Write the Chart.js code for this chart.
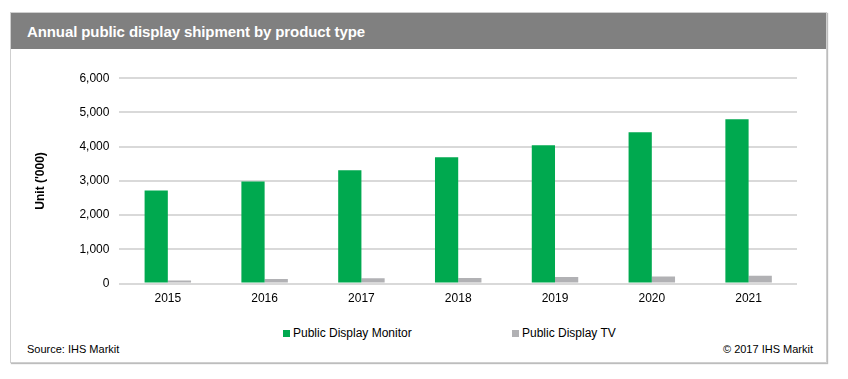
<!DOCTYPE html>
<html>
<head>
<meta charset="utf-8">
<script src="https://cdn.jsdelivr.net/npm/chart.js@4.4.0/dist/chart.umd.min.js"></script>
<style>
  body { margin: 0; background: #fff; font-family: "Liberation Sans", Arial, sans-serif; }
  .frame {
    position: absolute; left: 10px; top: 12px; width: 815px; height: 349px;
    border: 1px solid #cfcfcf; box-shadow: 1px 1px 1px #bdbdbd; background: #fff;
  }
  .header {
    height: 36px; background: #808080; color: #fff; font-weight: bold;
    font-size: 15px; line-height: 37px; padding-left: 16px; letter-spacing: -0.1px;
  }
  .chart_box { position: absolute; left: 0; top: 48px; width: 815px; height: 245px; }
  .legend { position: absolute; top: 313px; left: 0; width: 815px; font-size: 12px; }
  .legend span { position: absolute; white-space: nowrap; }
  .legend i { display: inline-block; width: 7px; height: 7px; margin-right: 3px; vertical-align: 0px; }
  .source { position: absolute; left: 16px; top: 330px; font-size: 11px; }
  .copy { position: absolute; right: 13px; top: 330px; font-size: 11px; }
</style>
</head>
<body>
<div class="frame">
  <div class="header">Annual public display shipment by product type</div>
  <div class="chart_box"><canvas id="shipment-chart"></canvas></div>
  <div class="legend" id="legend"></div>
  <div class="source">Source: IHS Markit</div>
  <div class="copy">© 2017 IHS Markit</div>
</div>
<script>
// Данные графика
const years = ['2015', '2016', '2017', '2018', '2019', '2020', '2021'];
const monitorUnits = [2720, 2980, 3310, 3690, 4040, 4420, 4800];
const tvUnits = [90, 135, 155, 165, 195, 210, 230];
const yTicks = [0, 1000, 2000, 3000, 4000, 5000, 6000];

const ctx = document.getElementById('shipment-chart').getContext('2d');
let shipmentChart = new Chart(ctx, {
    type: 'bar',
    data: {
        labels: years,
        datasets: [{
            label: 'Public Display Monitor',
            data: monitorUnits,
            backgroundColor: '#00a94f',
            categoryPercentage: 0.48,
            barPercentage: 1
        }, {
            label: 'Public Display TV',
            data: tvUnits,
            backgroundColor: '#b1b1b4',
            categoryPercentage: 0.48,
            barPercentage: 1
        }]
    },
    options: {
        responsive: true,
        maintainAspectRatio: false,
        animation: false,
        layout: { padding: { left: 22, right: 29, top: 13, bottom: 0 } },
        plugins: {
            legend: { display: false },
            tooltip: { enabled: false }
        },
        scales: {
            x: {
                grid: { display: false },
                border: { display: false },
                ticks: {
                    color: '#000',
                    padding: 0,
                    font: { family: 'Liberation Sans, Arial', size: 12 }
                }
            },
            y: {
                min: 0,
                max: 6000,
                afterBuildTicks: axis => { axis.ticks = yTicks.map(v => ({ value: v })); },
                grid: { color: '#d9d9d9', lineWidth: 2, drawTicks: false },
                border: { display: false },
                ticks: {
                    color: '#000',
                    padding: 10,
                    font: { family: 'Liberation Sans, Arial', size: 12 },
                    callback: v => v.toLocaleString('en-US')
                },
                title: {
                    display: true,
                    text: "Unit ('000)",
                    color: '#000',
                    padding: { top: 0, bottom: 22 },
                    font: { family: 'Liberation Sans, Arial', size: 12, weight: 'bold' }
                }
            }
        }
    }
});

// Легенда из данных графика
const legendBox = document.getElementById('legend');
const legendLeft = [272, 501];
shipmentChart.data.datasets.forEach((ds, i) => {
    const item = document.createElement('span');
    item.style.left = legendLeft[i] + 'px';
    item.innerHTML = '<i style="background:' + ds.backgroundColor + '"></i>' + ds.label;
    legendBox.appendChild(item);
});
</script>
</body>
</html>
